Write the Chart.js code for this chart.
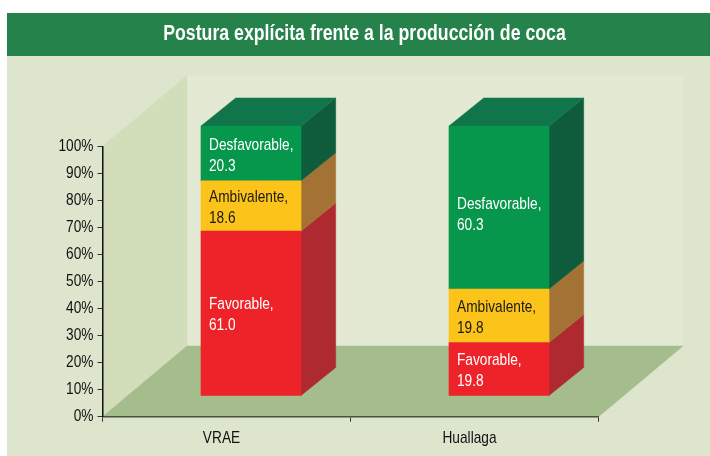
<!DOCTYPE html>
<html><head><meta charset="utf-8">
<style>html,body{margin:0;padding:0;background:#fff}#w{width:710px;height:456px}</style>
<script src="https://cdn.jsdelivr.net/npm/chart.js@4"></script></head>
<body><div id="w"><canvas id="c" width="710" height="456"></canvas></div>
<script>
const titleText = "Postura explícita frente a la producción de coca";
const categories = ["VRAE", "Huallaga"];
const favorable = [61.0, 19.8];
const ambivalente = [18.6, 19.8];
const desfavorable = [20.3, 60.3];
const seriesNames = ["Favorable", "Ambivalente", "Desfavorable"];
const yTicks = [0,10,20,30,40,50,60,70,80,90,100];

const FONT = '"Liberation Sans",sans-serif';
const NARROW = 0.805;                 // the reference uses a condensed face
const front = ["#ee2229","#fcc41a","#06964c"];
const side = ["#ae2a30","#a57236","#0e5c3c"];
const textCol = ["#ffffff","#1a1a10","#ffffff"];
const topCol = "#10754a";
const WALL = {dx:84.5, dy:70.7};      // depth of the room
const SHIFT = {dx:24.5, dy:20.7};     // bars stand inside the room
const BOX = {dx:34.7, dy:28};         // depth of each bar

// condense all text drawn on this canvas around its anchor point
const canvas = document.getElementById("c");
const rawCtx = canvas.getContext("2d");
const origFill = rawCtx.fillText.bind(rawCtx);
rawCtx.fillText = function(t,x,y,m){
  rawCtx.save(); rawCtx.translate(x,y); rawCtx.scale(NARROW,1);
  origFill(t,0,0); rawCtx.restore();
};

function poly(ctx, pts, col){
  ctx.fillStyle = col; ctx.strokeStyle = col; ctx.lineWidth = .5;
  ctx.beginPath(); pts.forEach((p,i)=> i?ctx.lineTo(p[0],p[1]):ctx.moveTo(p[0],p[1]));
  ctx.closePath(); ctx.fill(); ctx.stroke();
}
const room = {
  id:"room",
  afterLayout(chart){ // centre the title over the coloured band
    const t = chart.titleBlock; t.left = 7 + 6; t.right = 710 + 6;
  },
  beforeDraw(chart){
    const {ctx, chartArea:a} = chart;
    ctx.save();
    ctx.fillStyle="#fff"; ctx.fillRect(0,0,710,456);
    ctx.fillStyle="#dde5cd"; ctx.fillRect(7,56,703,400);
    ctx.fillStyle="#25824a"; ctx.fillRect(7,13,703,43);
    const L=a.left,R=a.right,T=a.top,B=a.bottom,dx=WALL.dx,dy=WALL.dy;
    poly(ctx,[[L+dx,T-dy],[R+dx,T-dy],[R+dx,B-dy],[L+dx,B-dy]],"#e4e9d4");
    poly(ctx,[[L,T],[L+dx,T-dy],[L+dx,B-dy],[L,B]],"#d2ddb9");
    poly(ctx,[[L,B],[L+dx,B-dy],[R+dx,B-dy],[R,B]],"#a5bd8d");
    ctx.restore();
  },
  beforeDatasetsDraw(chart){
    const ctx = chart.ctx;
    ctx.save();
    ctx.translate(SHIFT.dx,-SHIFT.dy);
    const metas = chart.data.datasets.map((d,i)=>chart.getDatasetMeta(i));
    metas.forEach((m,i)=>m.data.forEach(el=>{
      const r = el.x+el.width/2;
      poly(ctx,[[r,el.base],[r+BOX.dx,el.base-BOX.dy],[r+BOX.dx,el.y-BOX.dy],[r,el.y]],side[i]);
    }));
    const last = metas[metas.length-1];
    last.data.forEach(el=>{
      const l = el.x-el.width/2, r = el.x+el.width/2;
      poly(ctx,[[l,el.y],[l+BOX.dx,el.y-BOX.dy],[r+BOX.dx,el.y-BOX.dy],[r,el.y]],topCol);
    });
  },
  afterDatasetsDraw(chart){
    const ctx = chart.ctx;
    chart.data.datasets.forEach((d,i)=>{
      chart.getDatasetMeta(i).data.forEach((el,j)=>{
        const cy = (el.y+el.base)/2 + (d.data[j]>60 && i===2 ? 7 : 2);
        ctx.font = '17px '+FONT;
        ctx.fillStyle = textCol[i];
        ctx.textAlign = "left"; ctx.textBaseline = "middle";
        const x = el.x-el.width/2+8;
        ctx.fillText(d.label+",", x, cy-10.5);
        ctx.fillText(d.data[j].toFixed(1), x, cy+10.5);
      });
    });
    ctx.restore();
  }
};
const mk = (i,data)=>({label:seriesNames[i],data,backgroundColor:front[i],borderWidth:0,clip:false,
  barThickness:100,stack:"s"});
new Chart(canvas,{
  type:"bar",
  data:{labels:categories,datasets:[mk(0,favorable),mk(1,ambivalente),mk(2,desfavorable)]},
  plugins:[room],
  options:{
    responsive:false,animation:false,
    layout:{padding:{left:42.5,right:111.5,top:0,bottom:0}},
    plugins:{
      legend:{display:false},tooltip:{enabled:false},
      title:{display:true,text:titleText,color:"#fff",
        font:{family:FONT,size:22,weight:"bold",lineHeight:1.2},
        padding:{top:21,bottom:99}}
    },
    scales:{
      x:{stacked:true,
        afterFit(s){s.height=39.3;},
        border:{color:"#45533f",width:1.5},
        grid:{drawOnChartArea:false,tickLength:5,color:"#333",offset:true},
        ticks:{color:"#111",font:{family:FONT,size:17},padding:6,maxRotation:0,labelOffset:-5}},
      y:{stacked:true,min:0,max:100,
        afterFit(s){s.width=60;},
        afterBuildTicks(s){s.ticks=yTicks.map(v=>({value:v}));},
        border:{color:"#111",width:1.5},
        grid:{drawOnChartArea:false,tickLength:5,color:"#333"},
        ticks:{color:"#111",font:{family:FONT,size:17},padding:4,callback:v=>v+"%"}}
    }
  }
});
</script></body></html>
